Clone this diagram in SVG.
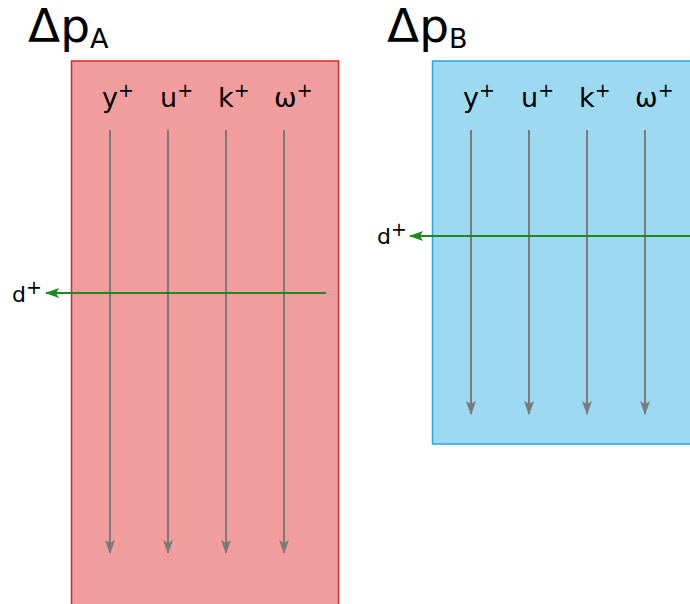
<svg xmlns="http://www.w3.org/2000/svg" width="690" height="604" viewBox="0 0 690 604">
<defs>
<style>
text{font-family:"DejaVu Sans",sans-serif;fill:#000}
.title{font-size:47px}
.lab{font-size:27px}
.sup{font-size:19px}
.dl{font-size:22px}
.vline{stroke:#7a7a7a;stroke-width:2;fill:none}
.hline{stroke:#1e8a1e;stroke-width:2;fill:none}
</style>
<marker id="ag" viewBox="0 0 14 10" refX="13" refY="5" markerWidth="15" markerHeight="10" markerUnits="userSpaceOnUse" orient="auto">
<path d="M0,0 L14,5 L0,10 L3,5 Z" fill="#7a7a7a"/>
</marker>
<marker id="agr" viewBox="0 0 14 10" refX="13" refY="5" markerWidth="15" markerHeight="10" markerUnits="userSpaceOnUse" orient="auto">
<path d="M0,0 L14,5 L0,10 L3,5 Z" fill="#1e8a1e"/>
</marker>
</defs>
<g id="panelA">
<rect x="71.5" y="61" width="267" height="560" fill="#f29d9d" stroke="#d9262b" stroke-width="1.5"/>
<text class="title" x="28" y="42">Δp<tspan font-size="27" dy="6">A</tspan></text>
<text class="lab" x="102" y="107">y<tspan class="sup" dy="-10">+</tspan></text>
<text class="lab" x="160" y="107">u<tspan class="sup" dy="-10">+</tspan></text>
<text class="lab" x="218" y="107">k<tspan class="sup" dy="-10">+</tspan></text>
<text class="lab" x="274" y="107">ω<tspan class="sup" dy="-10">+</tspan></text>
<text class="dl" x="12" y="302">d<tspan class="sup" dy="-8" font-size="17">+</tspan></text>
</g>
<g id="panelB">
<rect x="432.5" y="61" width="280" height="383" fill="#9ddaf2" stroke="#29a8e0" stroke-width="1.5"/>
<text class="title" x="387" y="42">Δp<tspan font-size="27" dy="6">B</tspan></text>
<text class="lab" x="463" y="107">y<tspan class="sup" dy="-10">+</tspan></text>
<text class="lab" x="521" y="107">u<tspan class="sup" dy="-10">+</tspan></text>
<text class="lab" x="579" y="107">k<tspan class="sup" dy="-10">+</tspan></text>
<text class="lab" x="635" y="107">ω<tspan class="sup" dy="-10">+</tspan></text>
<text class="dl" x="377" y="244">d<tspan class="sup" dy="-8" font-size="17">+</tspan></text>
</g>
<g id="connectors">
<line class="vline" x1="110" y1="130" x2="110" y2="553" marker-end="url(#ag)"/>
<line class="vline" x1="168" y1="130" x2="168" y2="553" marker-end="url(#ag)"/>
<line class="vline" x1="226" y1="130" x2="226" y2="553" marker-end="url(#ag)"/>
<line class="vline" x1="284" y1="130" x2="284" y2="553" marker-end="url(#ag)"/>
<line class="hline" x1="326" y1="293" x2="46" y2="293" marker-end="url(#agr)"/>
<line class="vline" x1="471" y1="130" x2="471" y2="414" marker-end="url(#ag)"/>
<line class="vline" x1="529" y1="130" x2="529" y2="414" marker-end="url(#ag)"/>
<line class="vline" x1="587" y1="130" x2="587" y2="414" marker-end="url(#ag)"/>
<line class="vline" x1="645" y1="130" x2="645" y2="414" marker-end="url(#ag)"/>
<line class="hline" x1="692" y1="236" x2="410" y2="236" marker-end="url(#agr)"/>
</g>
</svg>
